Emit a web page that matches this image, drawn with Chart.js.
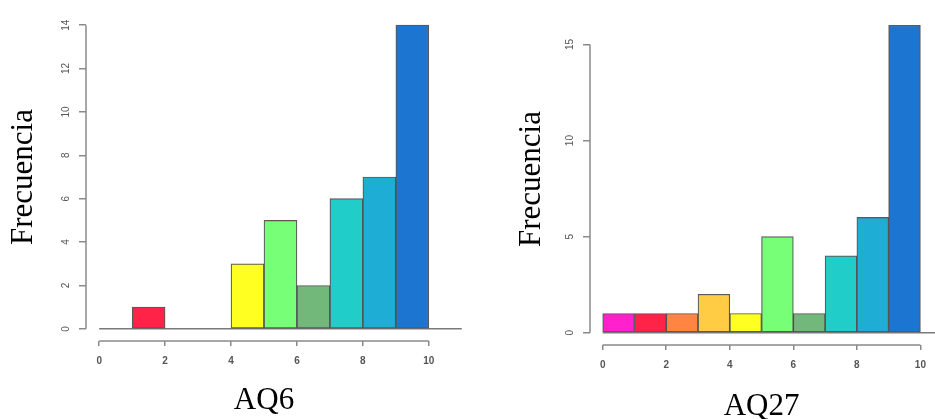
<!DOCTYPE html>
<html>
<head>
<meta charset="utf-8">
<script src="https://cdn.jsdelivr.net/npm/chart.js@4"></script>
<style>
  body { margin: 0; background: #fff; }
  .panel { position: absolute; top: 0; }
</style>
</head>
<body>
<canvas id="left" class="panel" style="left:0px" width="470" height="419"></canvas>
<canvas id="right" class="panel" style="left:470px" width="465" height="419"></canvas>
<script>
// histogram bins (midpoints of 0-1, 1-2, ... 9-10)
const binMids = [0.5, 1.5, 2.5, 3.5, 4.5, 5.5, 6.5, 7.5, 8.5, 9.5];
const aq6Counts = [0, 1, 0, 0, 3, 5, 2, 6, 7, 14];
const aq27Counts = [1, 1, 1, 2, 1, 5, 1, 4, 6, 16];
const binColors = ['#ff22cc', '#ff2447', '#ff8540', '#ffcc44', '#ffff22',
                   '#77ff77', '#72b87a', '#20cdc8', '#1eadd4', '#1b75d1'];
const xTicks = [0, 2, 4, 6, 8, 10];
const aq6YTicks = [0, 2, 4, 6, 8, 10, 12, 14];
const aq27YTicks = [0, 5, 10, 15];

// R-style axes: lines only span the tick range, baseline at zero
const rAxes = {
  id: 'rAxes',
  beforeDatasetsDraw(chart) {
    const {ctx, scales: {x, y}} = chart;
    ctx.save();
    ctx.strokeStyle = '#7a7a7a';
    ctx.lineWidth = 1.5;
    ctx.beginPath();
    ctx.moveTo(x.getPixelForValue(0), y.getPixelForValue(0));
    ctx.lineTo(x.getPixelForValue(11), y.getPixelForValue(0));
    ctx.stroke();
    ctx.restore();
  },
  afterDraw(chart, args, opts) {
    const {ctx, chartArea, scales: {x, y}} = chart;
    const yt = opts.yTicks;
    ctx.save();
    ctx.strokeStyle = '#8a8a8a';
    ctx.lineWidth = 1.5;
    ctx.beginPath();
    ctx.moveTo(chartArea.left, y.getPixelForValue(yt[0]));
    ctx.lineTo(chartArea.left, y.getPixelForValue(yt[yt.length - 1]));
    ctx.moveTo(x.getPixelForValue(xTicks[0]), chartArea.bottom);
    ctx.lineTo(x.getPixelForValue(xTicks[xTicks.length - 1]), chartArea.bottom);
    ctx.stroke();
    ctx.restore();
  }
};

function makeHist(id, counts, yTicks, cfg) {
  const ctx = document.getElementById(id).getContext('2d');
  return new Chart(ctx, {
    type: 'bar',
    data: {
      datasets: [{
        data: binMids.map((m, i) => ({x: m, y: counts[i]})),
        backgroundColor: binColors,
        borderColor: 'rgba(60,60,60,0.85)',
        borderWidth: 1.2,
        borderSkipped: false,
        barPercentage: 1,
        categoryPercentage: 1
      }]
    },
    plugins: [rAxes],
    options: {
      responsive: false,
      animation: false,
      layout: { padding: cfg.padding },
      plugins: {
        legend: { display: false },
        tooltip: { enabled: false },
        rAxes: { yTicks: yTicks }
      },
      scales: {
        x: {
          type: 'linear',
          min: -0.4,
          max: 10.4,
          offset: false,
          afterBuildTicks: s => { s.ticks = xTicks.map(v => ({value: v})); },
          afterFit: s => { s.height = cfg.xHeight; },
          border: { display: false },
          grid: { offset: false, drawOnChartArea: false, tickLength: 5, color: '#8a8a8a', lineWidth: 1.5 },
          ticks: {
            color: '#555',
            padding: 9,
            maxRotation: 0,
            font: { family: 'Liberation Sans', size: 10, weight: 'bold' }
          },
          title: {
            display: true,
            text: cfg.xTitle,
            color: '#000',
            padding: 0,
            font: { family: 'Liberation Serif', size: 31, lineHeight: cfg.xTitleLH }
          }
        },
        y: {
          min: cfg.yMin,
          max: cfg.yMax,
          afterBuildTicks: s => { s.ticks = yTicks.map(v => ({value: v})); },
          afterFit: s => { s.width = cfg.yWidth; },
          border: { display: false },
          grid: { drawOnChartArea: false, tickLength: 7, color: '#8a8a8a', lineWidth: 1.5 },
          ticks: {
            color: '#555',
            padding: 7,
            minRotation: 90,
            maxRotation: 90,
            crossAlign: 'center',
            font: { family: 'Liberation Sans', size: 10 }
          },
          title: {
            display: true,
            text: 'Frecuencia',
            color: '#000',
            padding: { top: cfg.yTitlePad, bottom: 0 },
            font: { family: 'Liberation Serif', size: 31, lineHeight: 1.2 }
          }
        }
      }
    }
  });
}

makeHist('left', aq6Counts, aq6YTicks, {
  padding: { top: 11, right: 28, bottom: 0, left: 0 },
  xHeight: 78, yWidth: 86, yMin: -0.56, yMax: 14.56,
  xTitle: 'AQ6', xTitleLH: 1.2, yTitlePad: 5
});

makeHist('right', aq27Counts, aq27YTicks, {
  padding: { top: 0, right: 1, bottom: 0, left: 0 },
  xHeight: 74, yWidth: 120, yMin: -0.64, yMax: 16.64,
  xTitle: 'AQ27', xTitleLH: 0.8, yTitlePad: 43
});
</script>
</body>
</html>
